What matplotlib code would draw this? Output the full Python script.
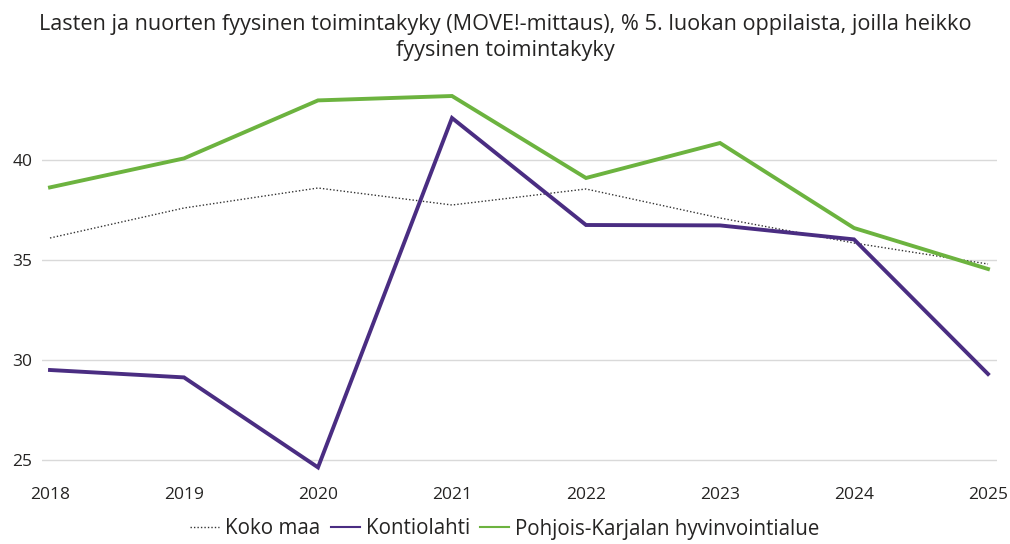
import matplotlib.pyplot as plt
from matplotlib.lines import Line2D

# data
years = [2018, 2019, 2020, 2021, 2022, 2023, 2024, 2025]
koko_maa = [36.1, 37.6, 38.6, 37.75, 38.55, 37.1, 35.85, 34.8]
kontiolahti = [29.5, 29.13, 24.63, 42.1, 36.75, 36.73, 36.03, 29.3]
pohjois_karjala = [38.63, 40.08, 42.98, 43.2, 39.1, 40.85, 36.6, 34.55]
y_ticks = [25, 30, 35, 40]

title = ("Lasten ja nuorten fyysinen toimintakyky (MOVE!-mittaus), % 5. luokan oppilaista, joilla heikko\n"
         "fyysinen toimintakyky")

plt.rcParams['font.family'] = ['Open Sans', 'DejaVu Sans']

fig = plt.figure(figsize=(10.10, 5.44), dpi=100)
ax = fig.add_axes([42 / 1010, 1 - 472 / 544, 955 / 1010, 412 / 544])

green = "#6CB33F"
purple = "#4A2D82"
text_col = "#252423"

ax.plot(years, koko_maa, color="#333333", lw=1.0, ls=(0, (1, 1.5)), label="Koko maa")
ax.plot(years, kontiolahti, color=purple, lw=2.8, label="Kontiolahti", solid_joinstyle="miter")
ax.plot(years, pohjois_karjala, color=green, lw=2.8, label="Pohjois-Karjalan hyvinvointialue",
        solid_joinstyle="miter")

ax.set_xlim(2018 - 8 / 134, 2025 + 9 / 134)
ax.set_ylim(24.4, 45)
ax.set_yticks(y_ticks)
ax.set_xticks(years)
ax.set_xticklabels([str(y) for y in years])
ax.grid(axis="y", color="#d9d9d9", lw=1.0)
ax.set_axisbelow(True)
for s in ax.spines.values():
    s.set_visible(False)
ax.tick_params(axis="both", length=0, labelsize=12.5, colors=text_col)
ax.tick_params(axis="y", pad=7)
ax.tick_params(axis="x", pad=11)

fig.text(0.5, 1 - 37.5 / 544, title, ha="center", va="center", fontsize=15.6,
         color=text_col, linespacing=1.35)

handles = [
    Line2D([], [], color="#333333", lw=1.0, ls=(0, (1, 1.5))),
    Line2D([], [], color=purple, lw=1.5),
    Line2D([], [], color=green, lw=1.5),
]
fig.legend(handles, ["Koko maa", "Kontiolahti", "Pohjois-Karjalan hyvinvointialue"],
           loc="center", bbox_to_anchor=(0.5, 1 - 529 / 544), ncol=3, frameon=False,
           fontsize=14.8, handlelength=1.4, handletextpad=0.3, columnspacing=0.5,
           labelcolor=text_col)

fig.savefig("out.png", dpi=100)
